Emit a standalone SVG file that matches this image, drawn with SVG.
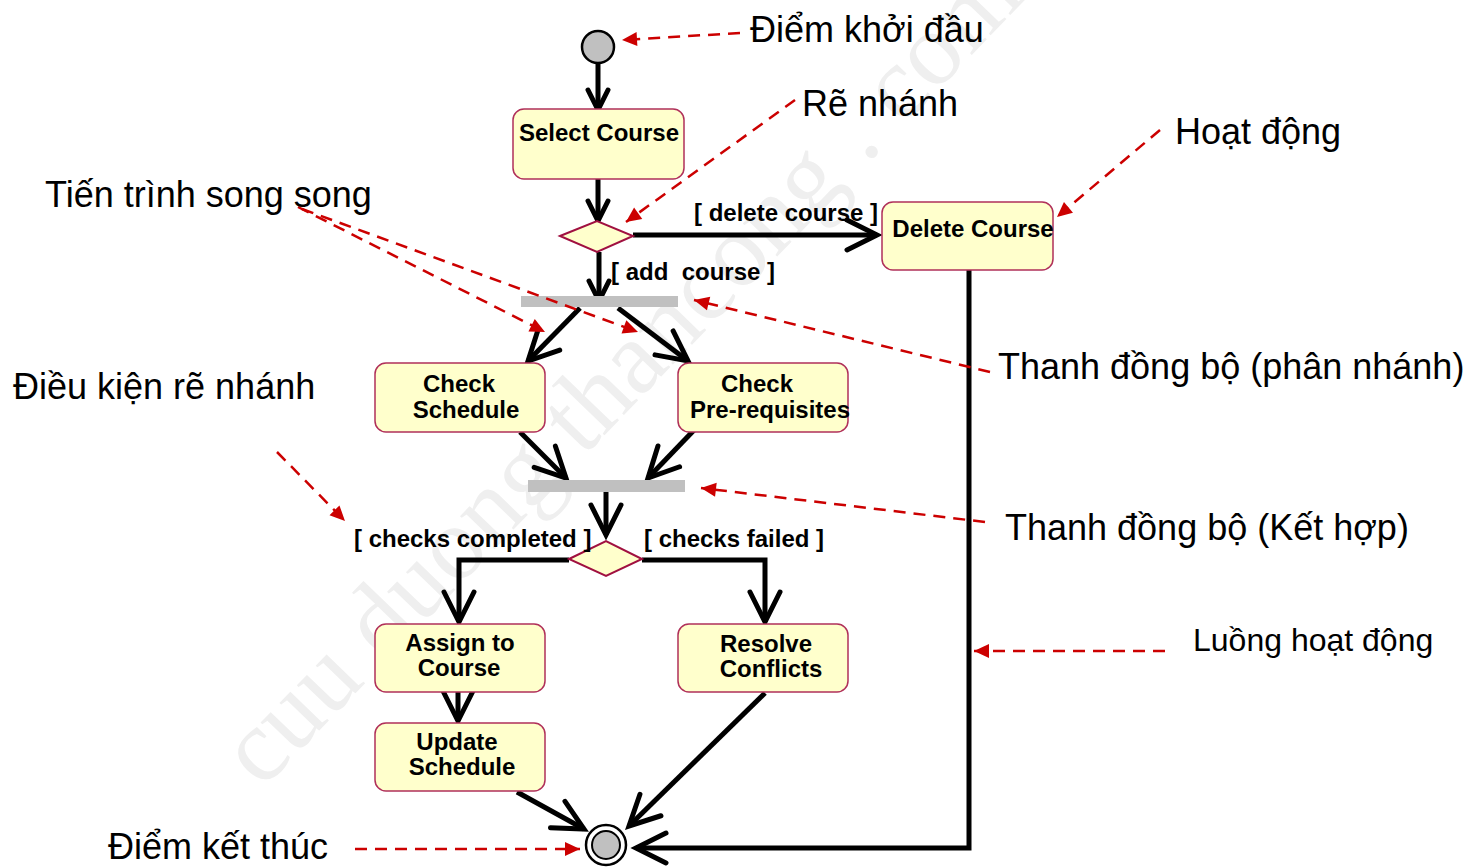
<svg xmlns="http://www.w3.org/2000/svg" width="1479" height="867" viewBox="0 0 1479 867">
<style>
.bg{fill:#ffffff}
.wm{font-family:"Liberation Serif",serif;font-size:104px;fill:#efefef}
.act{fill:#ffffcc;stroke:#b0305a;stroke-width:1.5}
.dec{fill:#ffffcc;stroke:#a01040;stroke-width:2}
.bar{fill:#c0c0c0}
.lbl{font-family:"Liberation Sans",Arial,sans-serif;font-weight:bold;font-size:24px;fill:#000;text-anchor:middle}
.grd{font-family:"Liberation Sans",Arial,sans-serif;font-weight:bold;font-size:24px;fill:#000;white-space:pre}
.ann{font-family:"Liberation Sans",Arial,sans-serif;font-size:36px;fill:#000}
.flow{fill:none;stroke:#000;stroke-width:5;stroke-linejoin:miter}
.note{fill:none;stroke:#cc0000;stroke-width:2.5;stroke-dasharray:12 8}
</style>
<defs>
<marker id="ah" markerUnits="userSpaceOnUse" viewBox="-34 -20 38 40" refX="0" refY="0" markerWidth="38" markerHeight="40" orient="auto" overflow="visible">
<path d="M-30,-15 L0,0 L-30,15" fill="none" stroke="#000" stroke-width="5" stroke-linecap="round" stroke-linejoin="miter"/>
</marker>
<marker id="ahs" markerUnits="userSpaceOnUse" viewBox="-24 -14 28 28" refX="0" refY="0" markerWidth="28" markerHeight="28" orient="auto" overflow="visible">
<path d="M-20,-10 L0,0 L-20,10" fill="none" stroke="#000" stroke-width="5" stroke-linecap="round"/>
</marker>
<marker id="ra" markerUnits="userSpaceOnUse" viewBox="-16 -8 18 16" refX="0" refY="0" markerWidth="18" markerHeight="16" orient="auto" overflow="visible">
<path d="M-15,-7 L0,0 L-15,7 Z" fill="#cc0000"/>
</marker>
</defs>
<rect class="bg" x="0" y="0" width="1479" height="867"/>
<text class="wm" x="262" y="790" transform="rotate(-46 262 790)">cuu duong thancong . com</text>

<g id="connectors">
<line class="flow" x1="598" y1="64" x2="598" y2="110" marker-end="url(#ahs)"/>
<line class="flow" x1="598" y1="179" x2="598" y2="221" marker-end="url(#ahs)"/>
<line class="flow" x1="633" y1="235" x2="877" y2="235" marker-end="url(#ah)"/>
<line class="flow" x1="599" y1="252" x2="599" y2="301" marker-end="url(#ahs)"/>
<line class="flow" x1="580" y1="308" x2="528" y2="361" marker-end="url(#ah)"/>
<line class="flow" x1="618" y1="308" x2="688" y2="361" marker-end="url(#ah)"/>
<line class="flow" x1="520" y1="432" x2="566" y2="478" marker-end="url(#ah)"/>
<line class="flow" x1="697" y1="427" x2="648" y2="478" marker-end="url(#ah)"/>
<line class="flow" x1="606" y1="492" x2="606" y2="535" marker-end="url(#ah)"/>
<polyline class="flow" points="569,560 459,560 459,622" marker-end="url(#ah)"/>
<polyline class="flow" points="642,560 765,560 765,622" marker-end="url(#ah)"/>
<line class="flow" x1="458" y1="692" x2="458" y2="721" marker-end="url(#ah)"/>
<line class="flow" x1="517" y1="792" x2="584" y2="829" marker-end="url(#ah)"/>
<line class="flow" x1="765" y1="693" x2="629" y2="826" marker-end="url(#ah)"/>
<polyline class="flow" points="969,270 969,848 636,848" marker-end="url(#ah)"/>
</g>

<g id="start"><circle cx="598" cy="47" r="16" fill="#c0c0c0" stroke="#000" stroke-width="2.5"/></g>
<g id="end">
<circle cx="606" cy="845" r="20" fill="#fff" stroke="#000" stroke-width="2.5"/>
<circle cx="606" cy="845" r="14" fill="#c0c0c0" stroke="#000" stroke-width="2"/>
</g>

<g id="select-course"><rect class="act" x="513" y="109" width="171" height="70" rx="11"/><text class="lbl" x="599" y="141">Select Course</text></g>
<g id="decision1"><polygon class="dec" points="560,236 597,221 633,236 597,252"/></g>
<g id="delete-course"><rect class="act" x="882" y="202" width="171" height="68" rx="11"/><text class="lbl" x="973" y="237">Delete Course</text></g>
<g id="fork"><rect class="bar" x="521" y="296" width="157" height="11"/></g>
<g id="check-schedule"><rect class="act" x="375" y="363" width="170" height="69" rx="11"/><text class="lbl" x="459" y="392">Check</text><text class="lbl" x="466" y="418">Schedule</text></g>
<g id="check-prereq"><rect class="act" x="678" y="363" width="170" height="69" rx="11"/><text class="lbl" x="757" y="392">Check</text><text class="lbl" x="770" y="418">Pre-requisites</text></g>
<g id="join"><rect class="bar" x="528" y="480" width="157" height="12"/></g>
<g id="decision2"><polygon class="dec" points="569,559 606,541 642,559 606,576"/></g>
<g id="assign"><rect class="act" x="375" y="624" width="170" height="68" rx="11"/><text class="lbl" x="460" y="651">Assign to</text><text class="lbl" x="459" y="676">Course</text></g>
<g id="resolve"><rect class="act" x="678" y="624" width="170" height="68" rx="11"/><text class="lbl" x="766" y="652">Resolve</text><text class="lbl" x="771" y="677">Conflicts</text></g>
<g id="update"><rect class="act" x="375" y="723" width="170" height="68" rx="11"/><text class="lbl" x="457" y="750">Update</text><text class="lbl" x="462" y="775">Schedule</text></g>

<g id="guards">
<text class="grd" x="694" y="221">[ delete course ]</text>
<text class="grd" x="611" y="280">[ add  course ]</text>
<text class="grd" x="354" y="547">[ checks completed ]</text>
<text class="grd" x="644" y="547">[ checks failed ]</text>
</g>

<g id="annotations">
<line class="note" x1="740" y1="33" x2="622" y2="40" marker-end="url(#ra)"/>
<line class="note" x1="795" y1="100" x2="626" y2="222" marker-end="url(#ra)"/>
<line class="note" x1="1160" y1="130" x2="1057" y2="217" marker-end="url(#ra)"/>
<line class="note" x1="298" y1="207" x2="545" y2="332" marker-end="url(#ra)"/>
<line class="note" x1="302" y1="209" x2="638" y2="332" marker-end="url(#ra)"/>
<line class="note" x1="990" y1="372" x2="694" y2="300" marker-end="url(#ra)"/>
<line class="note" x1="277" y1="452" x2="345" y2="521" marker-end="url(#ra)"/>
<line class="note" x1="985" y1="522" x2="701" y2="488" marker-end="url(#ra)"/>
<line class="note" x1="1165" y1="651" x2="974" y2="651" marker-end="url(#ra)"/>
<line class="note" x1="355" y1="849" x2="580" y2="849" marker-end="url(#ra)"/>
<text class="ann" x="750" y="42">Điểm khởi đầu</text>
<text class="ann" x="802" y="116">Rẽ nhánh</text>
<text class="ann" x="1175" y="144">Hoạt động</text>
<text class="ann" x="45" y="207">Tiến trình song song</text>
<text class="ann" x="998" y="379">Thanh đồng bộ (phân nhánh)</text>
<text class="ann" x="13" y="399">Điều kiện rẽ nhánh</text>
<text class="ann" x="1005" y="540">Thanh đồng bộ (Kết hợp)</text>
<text class="ann" x="1193" y="651" style="font-size:32px">Luồng hoạt động</text>
<text class="ann" x="108" y="859">Điểm kết thúc</text>
</g>
</svg>
